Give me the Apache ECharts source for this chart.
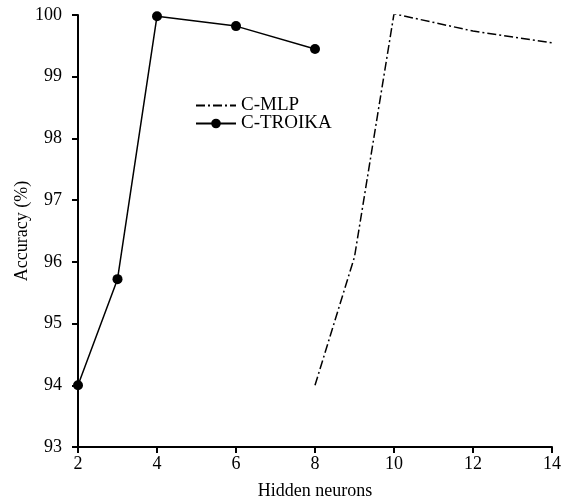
<!DOCTYPE html>
<html>
<head>
<meta charset="utf-8">
<script src="https://cdn.jsdelivr.net/npm/echarts@6/dist/echarts.min.js"></script>
<style>
html, body { margin: 0; padding: 0; background: #fff; }
#chart { width: 571px; height: 500px; }
</style>
</head>
<body>
<div id="chart"></div>
<script>
var mlpX = [8, 9, 10, 12, 14];
var mlpY = [94.0, 96.08, 100.02, 99.74, 99.55];
var troikaX = [2, 3, 4, 6, 8];
var troikaY = [94.0, 95.72, 99.98, 99.82, 99.45];

var chart = echarts.init(document.getElementById('chart'));

function pairs(xs, ys) {
    var res = [];
    for (var i = 0; i < xs.length; i++) {
        res.push([xs[i], ys[i]]);
    }
    return res;
}

var font = 'Liberation Serif';

var option = {
    backgroundColor: '#fff',
    animation: false,
    grid: { left: 78, right: 19, top: 15, bottom: 53, outerBoundsMode: 'none' },
    legend: {
        orient: 'vertical',
        left: 190,
        top: 91,
        itemWidth: 40,
        itemHeight: 12,
        itemGap: -1,
        textStyle: { fontFamily: font, fontSize: 19, color: '#000' },
        data: ['C-MLP', 'C-TROIKA']
    },
    xAxis: {
        type: 'value',
        min: 2,
        max: 14,
        interval: 2,
        name: 'Hidden neurons',
        nameLocation: 'middle',
        nameGap: 35,
        nameMoveOverlap: false,
        nameTextStyle: { fontFamily: font, fontSize: 18, color: '#000' },
        axisLine: { lineStyle: { color: '#000', width: 2 } },
        axisTick: { length: 6, lineStyle: { color: '#000', width: 2 } },
        axisLabel: { fontFamily: font, fontSize: 18, color: '#000', margin: 8 },
        splitLine: { show: false }
    },
    yAxis: {
        type: 'value',
        min: 93,
        max: 100,
        interval: 1,
        name: 'Accuracy (%)',
        nameLocation: 'middle',
        nameGap: 47,
        nameMoveOverlap: false,
        nameTextStyle: { fontFamily: font, fontSize: 18, color: '#000' },
        axisLine: { show: true, lineStyle: { color: '#000', width: 2 } },
        axisTick: { show: true, length: 6, lineStyle: { color: '#000', width: 2 } },
        axisLabel: { fontFamily: font, fontSize: 18, color: '#000', margin: 16 },
        splitLine: { show: false }
    },
    series: [
        {
            name: 'C-MLP',
            type: 'line',
            data: pairs(mlpX, mlpY),
            showSymbol: false,
            symbol: 'none',
            lineStyle: { color: '#000', width: 1.5, type: [9, 3, 2, 3] },
            itemStyle: { color: 'rgba(0,0,0,0)' }
        },
        {
            name: 'C-TROIKA',
            type: 'line',
            data: pairs(troikaX, troikaY),
            symbol: 'circle',
            symbolSize: 10,
            lineStyle: { color: '#000', width: 1.5 },
            itemStyle: { color: '#000' }
        }
    ]
};

chart.setOption(option);
</script>
</body>
</html>
